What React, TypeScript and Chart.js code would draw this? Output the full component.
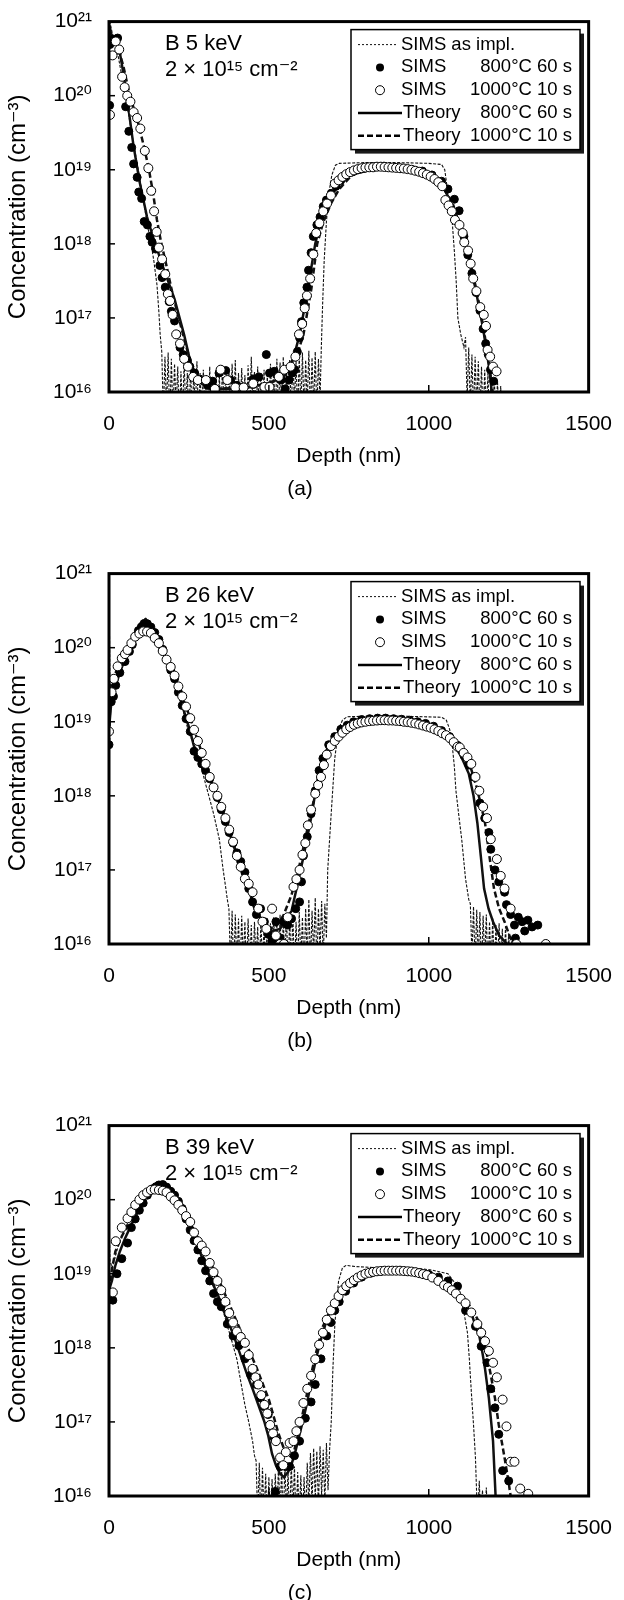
import { useEffect, useRef } from 'react';
import { Chart, registerables } from 'chart.js';

Chart.register(...registerables);

type Pt = [number, number];

const FONT = '"Liberation Sans", Arial, "DejaVu Sans", sans-serif';

// ---------- shared labels ----------
const panelCaptions = ['(a)', '(b)', '(c)'];
const energyLabels = ['B 5 keV', 'B 26 keV', 'B 39 keV'];
const doseLabel = '2 × 10¹⁵ cm⁻²';
const xTitle = 'Depth (nm)';
const yTitle = 'Concentration (cm⁻³)';
const xTickValues = [0, 500, 1000, 1500];
const yTickValues = [1e16, 1e17, 1e18, 1e19, 1e20, 1e21];
const yTickLabels = ['10¹⁶', '10¹⁷', '10¹⁸', '10¹⁹', '10²⁰', '10²¹'];
const legendNames = ['SIMS as impl.', 'SIMS', 'SIMS', 'Theory', 'Theory'];
const legendConds = ['', '800°C 60 s', '1000°C 10 s', '800°C 60 s', '1000°C 10 s'];

// ---------- panel (a): B 5 keV ----------
const aImpl: Pt[] = [
  [0, 3e19], [1, 1e21], [5, 9e20], [10, 7e20], [20, 5e20], [30, 3.2e20], [45, 1.4e20], [60, 6e19],
  [75, 2.5e19], [90, 1.1e19], [105, 4.5e18], [120, 1.8e18], [130, 1.1e18], [140, 6e17], [150, 2.8e17],
  [156, 1.2e17], [160, 6e16],
  [165, 3.5e16], [170, 5e15], [175, 3e16], [180, 6e15], [185, 3.4e16], [190, 4e15], [195, 2.8e16],
  [200, 5e15], [205, 2.4e16], [210, 6e15], [215, 2.2e16], [220, 4e15], [225, 1.9e16], [230, 5e15],
  [235, 2.5e16], [240, 6e15], [245, 1.8e16], [250, 4e15], [255, 2.1e16], [260, 5e15], [265, 1.7e16],
  [270, 6e15], [275, 2.6e16], [280, 4e15], [285, 1.8e16], [290, 5e15], [295, 2e16], [300, 6e15],
  [305, 1.7e16], [310, 4e15], [315, 2.2e16], [320, 5e15], [325, 1.6e16], [330, 6e15], [335, 1.9e16],
  [340, 4e15], [345, 1.7e16], [350, 5e15], [355, 2.3e16], [360, 6e15], [365, 1.6e16], [370, 4e15],
  [375, 2e16], [380, 5e15], [385, 2.4e16], [390, 6e15], [395, 2.7e16], [400, 4e15], [405, 1.8e16],
  [410, 5e15], [415, 2.1e16], [420, 6e15], [425, 1.7e16], [430, 4e15], [435, 2.3e16], [440, 5e15],
  [445, 3e16], [450, 6e15], [455, 1.9e16], [460, 4e15], [465, 2.2e16], [470, 5e15], [475, 1.8e16],
  [480, 6e15], [485, 2e16], [490, 4e15], [495, 1.7e16], [500, 5e15], [505, 2.4e16], [510, 6e15],
  [515, 2e16], [520, 4e15], [525, 2.8e16], [530, 5e15], [535, 2.5e16], [540, 6e15], [545, 3e16],
  [550, 4e15], [555, 2.2e16], [560, 6e15], [565, 2.7e16], [570, 5e15], [575, 3.2e16], [580, 7e15],
  [585, 2.6e16], [590, 5e15], [595, 3.1e16], [600, 6e15], [605, 3.4e16], [610, 5e15], [615, 2.7e16],
  [620, 7e15], [625, 3.6e16], [630, 5e15], [635, 2.9e16], [640, 6e15], [645, 3.5e16], [650, 5e15],
  [655, 2.8e16], [660, 8e15],
  [664, 4e16], [668, 1.5e17], [673, 6e17], [680, 2e18], [688, 5e18], [697, 8.5e18], [708, 1.15e19],
  [720, 1.22e19], [800, 1.25e19], [900, 1.25e19], [1000, 1.22e19], [1040, 1.18e19], [1050, 1e19],
  [1057, 6e18], [1064, 3.5e18], [1072, 2.4e18], [1080, 8e17], [1086, 3e17], [1091, 1e17], [1100, 6e16],
  [1110, 4e16], [1115, 5.5e16], [1120, 8e15], [1125, 4e16], [1130, 6e15], [1135, 3.2e16], [1140, 5e15],
  [1145, 3e16], [1150, 6e15], [1155, 2.6e16], [1160, 5e15], [1165, 2.2e16], [1170, 4e15], [1175, 2e16],
  [1180, 5e15], [1185, 1.8e16], [1190, 4e15], [1195, 1.6e16], [1200, 5e15], [1205, 1.5e16], [1210, 4e15],
  [1215, 1.4e16], [1220, 4e15], [1225, 1.2e16], [1228, 4e15],
];
const aTh800: Pt[] = [
  [0, 9e20], [8, 6.5e20], [20, 5.6e20], [34, 3.8e20], [45, 2e20], [58, 8.3e19], [76, 2.2e19], [95, 7.1e18],
  [119, 2.3e18], [137, 1.26e18], [168, 5e17], [205, 1.8e17], [235, 5.9e16], [254, 2.6e16], [278, 1.4e16],
  [315, 1.1e16], [400, 1.1e16], [498, 1.3e16], [547, 1.6e16], [577, 2.9e16], [596, 5.9e16], [620, 2.2e17],
  [645, 1e18], [663, 2.1e18], [681, 3.5e18], [706, 5.2e18], [736, 7.6e18], [779, 9.8e18], [840, 1.1e19],
  [901, 1.05e19], [962, 9.1e18], [1011, 7.6e18], [1048, 5.5e18], [1072, 3.5e18], [1097, 1.7e18],
  [1121, 7.6e17], [1146, 2.5e17], [1170, 7.2e16], [1189, 2.1e16], [1197, 1e16], [1205, 5e15],
];
const aTh1000: Pt[] = [
  [0, 9e20], [10, 6e20], [25, 5e20], [45, 2.5e20], [65, 1e20], [90, 4.5e19], [110, 2e19], [125, 1e19],
  [138, 4.8e18], [150, 2.1e18], [162, 1.1e18], [180, 5e17], [200, 2e17], [229, 6.6e16], [254, 2.6e16],
  [275, 1.5e16], [320, 1.1e16], [450, 1.15e16], [540, 1.5e16], [580, 2.5e16], [608, 5.9e16], [633, 2.5e17],
  [651, 1e18], [669, 1.9e18], [694, 3.5e18], [720, 5.5e18], [760, 8.5e18], [840, 1.08e19], [900, 1.05e19],
  [962, 9.1e18], [1011, 7.6e18], [1048, 5.5e18], [1075, 3.5e18], [1100, 1.6e18], [1125, 7e17],
  [1150, 2.3e17], [1172, 7e16], [1190, 2.2e16], [1200, 1e16], [1208, 5e15],
];
const aSims800: Pt[] = [
  [2, 7.4e19], [3, 4.9e20], [13, 5.8e20], [21, 5.8e20], [27, 6e20], [52, 7.1e19], [62, 3.3e19], [71, 2e19],
  [77, 1.2e19], [88, 7.9e18], [93, 5e18], [102, 4.1e18], [110, 2e18], [120, 1.8e18], [128, 1.26e18],
  [135, 1.05e18], [146, 8.5e17], [159, 5.1e17], [166, 3.5e17], [176, 2.6e17], [188, 1.66e17], [195, 1.23e17],
  [205, 9.1e16], [212, 6e16], [222, 4e16], [232, 3.2e16], [245, 2.7e16], [253, 2.2e16], [268, 1.8e16],
  [283, 1.5e16], [309, 1.23e16], [324, 1.4e16], [344, 1.8e16], [365, 1.95e16], [380, 1.45e16], [400, 1.23e16],
  [421, 1.17e16], [451, 1.5e16], [469, 1.6e16], [492, 3.2e16], [502, 1.8e16], [517, 1.9e16], [538, 1.45e16],
  [551, 1.1e16], [563, 1.45e16], [573, 1.8e16], [581, 2e16], [589, 3.5e16], [596, 5.4e16], [602, 8.9e16],
  [609, 1.6e17], [619, 2.6e17], [624, 4.4e17], [632, 7.6e17], [639, 1.26e18], [650, 1.8e18], [660, 2.3e18],
  [670, 3.2e18], [680, 3.9e18], [695, 4.8e18], [710, 6e18], [725, 7.2e18], [740, 8.3e18], [760, 9.3e18],
  [780, 1e19], [800, 1.05e19], [830, 1.1e19], [860, 1.12e19], [890, 1.08e19], [920, 1.05e19], [950, 1e19],
  [980, 9.6e18], [1010, 8.5e18], [1040, 7e18], [1060, 5.5e18], [1080, 4e18], [1095, 2.8e18], [1110, 1.26e18],
  [1122, 7.1e17], [1135, 4e17], [1148, 2.2e17], [1160, 1.26e17], [1170, 7.1e16], [1178, 4.5e16],
  [1186, 3.2e16], [1193, 2e16], [1203, 1.4e16],
];
const aSims1000: Pt[] = [
  [3, 5.5e19], [11, 3.5e20], [21, 5.4e20], [32, 4.2e20], [41, 1.8e20], [49, 1.3e20], [57, 1e20], [67, 8.3e19],
  [77, 6e19], [88, 5e19], [98, 3.6e19], [112, 1.8e19], [123, 1.05e19], [132, 5.2e18], [141, 2.75e18],
  [149, 1.45e18], [156, 8.9e17], [166, 6.2e17], [176, 3.9e17], [184, 2.1e17], [191, 1.7e17], [199, 1.1e17],
  [210, 6e16], [222, 4.5e16], [235, 2.8e16], [247, 2.2e16], [263, 1.6e16], [278, 1.45e16], [303, 1.45e16],
  [331, 1.1e16], [349, 2e16], [370, 1.45e16], [395, 1.15e16], [421, 1.15e16], [451, 1.3e16], [486, 1.17e16],
  [502, 1.17e16], [531, 1.6e16], [548, 2e16], [568, 2.2e16], [583, 3e16], [594, 6e16], [604, 8.3e16],
  [612, 1.35e17], [619, 2e17], [629, 3.4e17], [639, 7.2e17], [648, 1.4e18], [658, 1.9e18], [670, 2.75e18],
  [682, 3.5e18], [694, 4.5e18], [706, 6.5e18], [718, 7.2e18], [730, 8e18], [742, 8.7e18], [754, 9.3e18],
  [766, 9.8e18], [778, 1.02e19], [790, 1.05e19], [802, 1.07e19], [814, 1.08e19], [826, 1.08e19],
  [838, 1.1e19], [850, 1.1e19], [862, 1.09e19], [874, 1.08e19], [886, 1.07e19], [898, 1.06e19],
  [910, 1.05e19], [922, 1.04e19], [934, 1.02e19], [946, 1e19], [958, 9.7e18], [970, 9.4e18], [982, 9e18],
  [994, 8.6e18], [1006, 8.1e18], [1018, 7.5e18], [1030, 6.8e18], [1042, 6e18], [1052, 3.9e18],
  [1062, 3.3e18], [1072, 2.75e18], [1082, 2.1e18], [1096, 1.8e18], [1106, 1.4e18], [1111, 1.05e18],
  [1123, 8.1e17], [1131, 5.4e17], [1139, 3.4e17], [1149, 2.3e17], [1161, 1.4e17], [1172, 1.1e17],
  [1179, 7.8e16], [1184, 3.7e16], [1192, 3e16], [1201, 2.2e16], [1212, 1.9e16],
];

// ---------- panel (b): B 26 keV ----------
const bImpl: Pt[] = [
  [0, 5e15], [1, 2.8e20], [3, 3e19], [10, 2.6e19], [25, 4e19], [50, 8e19], [75, 1.5e20], [100, 2.3e20],
  [115, 2.5e20], [130, 2.2e20], [155, 1.4e20], [180, 7e19], [205, 3.5e19], [230, 1.5e19], [250, 7e18],
  [266, 5e18], [285, 2.8e18], [302, 1.45e18], [315, 9e17], [327, 5.75e17], [345, 2.6e17], [357, 1e17],
  [364, 6.2e16], [370, 4e16],
  [375, 3e16], [380, 5e15], [385, 2.8e16], [390, 4e15], [395, 2.5e16], [400, 5e15], [405, 2.2e16],
  [410, 4e15], [415, 2.4e16], [420, 6e15], [425, 2e16], [430, 4e15], [435, 2.2e16], [440, 5e15],
  [445, 1.8e16], [450, 4e15], [455, 2e16], [460, 6e15], [465, 1.7e16], [470, 4e15], [475, 2.1e16],
  [480, 5e15], [485, 1.8e16], [490, 4e15], [495, 2.2e16], [500, 5e15], [505, 1.9e16], [510, 4e15],
  [515, 2.3e16], [520, 6e15], [525, 2e16], [530, 4e15], [535, 2.5e16], [540, 5e15], [545, 2.1e16],
  [550, 6e15], [555, 2.6e16], [560, 4e15], [565, 2.2e16], [570, 5e15], [575, 2.5e16], [580, 4e15],
  [585, 2e16], [590, 5e15], [595, 2.7e16], [600, 6e15], [605, 2.3e16], [610, 4e15], [615, 3e16],
  [620, 6e15], [625, 4e16], [630, 5e15], [635, 2.8e16], [640, 7e15], [645, 4.2e16], [650, 5e15],
  [655, 3e16], [660, 8e15], [665, 3.8e16], [670, 6e15], [675, 3.5e16], [680, 1.2e16],
  [684, 1e17], [693, 4.3e17], [706, 3.2e18], [718, 8e18], [730, 1.05e19], [745, 1.17e19], [850, 1.2e19],
  [950, 1.18e19], [1040, 1.15e19], [1055, 1.05e19], [1065, 8e18], [1072, 5.5e18], [1080, 2.5e18],
  [1085, 1.17e18], [1095, 5e17], [1103, 2.6e17], [1115, 7.6e16], [1125, 4e16],
  [1130, 3.5e16], [1135, 7e15], [1140, 3.2e16], [1145, 5e15], [1150, 2.9e16], [1155, 6e15], [1160, 2.7e16],
  [1165, 4e15], [1170, 2.4e16], [1175, 6e15], [1180, 2.5e16], [1185, 4e15], [1190, 2e16], [1195, 5e15],
  [1200, 2.2e16], [1205, 4e15], [1210, 1.8e16], [1215, 5e15], [1220, 1.9e16], [1225, 4e15], [1230, 1.6e16],
  [1235, 4e15], [1240, 1.7e16], [1245, 5e15], [1250, 1.4e16], [1255, 4e15], [1260, 1.1e16], [1265, 4e15],
];
const bTh800: Pt[] = [
  [0, 8e18], [10, 2.5e19], [21, 3.1e19], [34, 4.6e19], [50, 7e19], [64, 8.9e19], [82, 1.4e20], [101, 1.9e20],
  [113, 2.1e20], [131, 1.9e20], [156, 1.29e20], [180, 6.9e19], [205, 3.8e19], [229, 1.66e19], [254, 7.4e18],
  [266, 4.6e18], [278, 3.3e18], [302, 2.2e18], [327, 1.3e18], [351, 6.8e17], [376, 3.2e17], [400, 1.6e17],
  [431, 6.8e16], [455, 3e16], [486, 1.85e16], [510, 1.5e16], [535, 1.6e16], [571, 2.8e16], [590, 6.5e16],
  [608, 1.5e17], [632, 5e17], [657, 2.2e18], [669, 3e18], [687, 4.9e18], [706, 6.3e18], [730, 7.9e18],
  [767, 1e19], [830, 1.1e19], [889, 1.1e19], [950, 1.05e19], [1011, 8.7e18], [1060, 6.5e18], [1100, 3.5e18],
  [1125, 2e18], [1140, 1e18], [1152, 4.3e17], [1163, 1.5e17], [1173, 5.6e16], [1187, 3e16], [1201, 2e16],
  [1220, 1.3e16], [1245, 1e16], [1260, 7e15],
];
const bTh1000: Pt[] = [
  [0, 5e18], [5, 3e19], [15, 3.8e19], [27, 5.6e19], [40, 7.2e19], [58, 9.3e19], [82, 1.4e20], [107, 1.66e20],
  [131, 1.6e20], [156, 1.15e20], [180, 6.9e19], [205, 4.2e19], [229, 2.2e19], [254, 1.12e19], [278, 5.5e18],
  [302, 2.7e18], [327, 1.3e18], [351, 7e17], [376, 3.5e17], [400, 1.55e17], [425, 7.6e16], [449, 4e16],
  [470, 2.4e16], [495, 1.6e16], [520, 1.7e16], [545, 2.4e16], [570, 4.5e16], [590, 9e16], [610, 2.2e17],
  [632, 6e17], [650, 1.3e18], [669, 2.5e18], [690, 4.2e18], [710, 5.9e18], [735, 7.5e18], [770, 9.5e18],
  [830, 1.08e19], [889, 1.1e19], [950, 1.05e19], [1011, 8.7e18], [1060, 6.5e18], [1100, 3.8e18],
  [1130, 2.5e18], [1150, 1.3e18], [1165, 7e17], [1176, 4.3e17], [1190, 1.5e17], [1204, 5.6e16],
  [1220, 3e16], [1237, 2e16], [1255, 1.2e16], [1270, 1e16], [1285, 7e15],
];
const bSims800: Pt[] = [
  [0, 4.9e18], [7, 1.86e19], [14, 2.2e19], [21, 3.1e19], [34, 4.6e19], [50, 6.5e19], [64, 8.9e19], [73, 1.1e20],
  [82, 1.41e20], [92, 1.7e20], [101, 1.9e20], [108, 2.05e20], [113, 2.14e20], [120, 2.1e20], [131, 1.9e20],
  [143, 1.6e20], [156, 1.29e20], [168, 9.5e19], [180, 6.9e19], [193, 5e19], [205, 3.8e19], [217, 2.5e19],
  [229, 1.66e19], [241, 1.1e19], [254, 7.4e18], [266, 4e18], [278, 3.3e18], [290, 2.7e18], [302, 2.2e18],
  [315, 1.7e18], [327, 1.3e18], [339, 9.5e17], [351, 6.5e17], [364, 4.5e17], [376, 3.2e17], [388, 2.3e17],
  [400, 1.7e17], [412, 1.3e17], [425, 9.3e16], [437, 5.6e16], [449, 3.7e16], [461, 2.5e16], [474, 3e16],
  [486, 2e16], [498, 1.35e16], [510, 1.1e16], [522, 2e16], [535, 1.2e16], [547, 2e16], [559, 1.8e16],
  [571, 2.2e16], [584, 3e16], [596, 3.7e16], [602, 6.9e16], [608, 1.55e17], [620, 2.8e17], [632, 5.75e17],
  [645, 1.17e18], [657, 2.2e18], [669, 3.2e18], [687, 4.9e18], [706, 6.3e18], [725, 7.9e18], [745, 9e18],
  [765, 1e19], [790, 1.07e19], [815, 1.1e19], [840, 1.12e19], [865, 1.12e19], [890, 1.1e19], [915, 1.08e19],
  [940, 1.05e19], [965, 1e19], [990, 9.5e18], [1015, 8.7e18], [1040, 7.6e18], [1065, 6.3e18], [1090, 4.8e18],
  [1110, 3.5e18], [1125, 2.6e18], [1140, 1.8e18], [1160, 8e17], [1175, 5e17], [1188, 3.2e17], [1194, 1.9e17],
  [1207, 1e17], [1219, 6.9e16], [1237, 5e16], [1243, 3.4e16], [1256, 2.5e16], [1268, 1.8e16], [1271, 1.2e16],
  [1280, 2.3e16], [1292, 2e16], [1300, 1.5e16], [1310, 2.1e16], [1323, 1.7e16], [1341, 1.8e16],
];
const bSims1000: Pt[] = [
  [0, 7.4e18], [8, 2.5e19], [15, 3.8e19], [27, 5.6e19], [40, 7.2e19], [50, 8.2e19], [58, 9.3e19], [70, 1.15e20],
  [82, 1.41e20], [95, 1.55e20], [107, 1.66e20], [119, 1.65e20], [131, 1.58e20], [143, 1.35e20], [156, 1.15e20],
  [168, 9e19], [180, 6.9e19], [193, 5.5e19], [205, 4.2e19], [217, 3e19], [229, 2.2e19], [241, 1.6e19],
  [254, 1.12e19], [266, 7.8e18], [278, 5.5e18], [290, 3.8e18], [302, 2.7e18], [315, 1.8e18], [327, 1.3e18],
  [339, 1e18], [351, 7.1e17], [364, 5e17], [376, 3.5e17], [388, 2.4e17], [400, 1.55e17], [412, 1.1e17],
  [425, 7.6e16], [437, 6.5e16], [449, 5e16], [467, 3e16], [480, 2e16], [492, 1.6e16], [510, 3e16],
  [522, 1.3e16], [535, 1e16], [547, 1e16], [559, 2.3e16], [577, 5.9e16], [586, 7.5e16], [596, 1e17],
  [605, 1.6e17], [614, 2.3e17], [622, 4e17], [632, 6.5e17], [645, 1.07e18], [654, 1.4e18], [663, 1.8e18],
  [672, 2.6e18], [681, 3.6e18], [694, 4.7e18], [706, 5.5e18], [718, 6.3e18], [730, 7.1e18], [742, 7.9e18],
  [754, 8.5e18], [766, 9.1e18], [778, 9.5e18], [790, 9.8e18], [802, 1e19], [814, 1.02e19], [826, 1.03e19],
  [838, 1.04e19], [850, 1.05e19], [862, 1.05e19], [874, 1.04e19], [886, 1.04e19], [898, 1.03e19],
  [910, 1.02e19], [922, 1e19], [934, 9.9e18], [946, 9.7e18], [958, 9.5e18], [970, 9.2e18], [982, 8.9e18],
  [994, 8.6e18], [1006, 8.3e18], [1018, 7.9e18], [1030, 7.5e18], [1042, 7e18], [1054, 6.6e18], [1066, 6e18],
  [1078, 5.3e18], [1090, 4.6e18], [1097, 4.5e18], [1109, 3.8e18], [1121, 3.3e18], [1133, 2.7e18],
  [1146, 1.8e18], [1158, 1.17e18], [1170, 7.1e17], [1182, 5e17], [1194, 2.6e17], [1213, 1.4e17],
  [1225, 8.3e16], [1237, 5.6e16], [1256, 3e16], [1274, 1e16], [1366, 1e16],
];

// ---------- panel (c): B 39 keV ----------
const cImpl: Pt[] = [
  [0, 1.5e18], [1, 4e19], [3, 1.5e19], [10, 1.2e19], [30, 2.5e19], [60, 5e19], [100, 1.1e20], [140, 1.6e20],
  [170, 1.7e20], [200, 1.4e20], [240, 7e19], [280, 2.6e19], [320, 9e18], [350, 4e18], [370, 2e18],
  [385, 1.2e18], [400, 7e17], [412, 3.5e17], [425, 1.7e17], [437, 1e17], [449, 5.5e16], [455, 3.5e16],
  [460, 3e16], [465, 5e15], [470, 2.8e16], [475, 4e15], [480, 2.4e16], [485, 5e15], [490, 2e16], [495, 4e15],
  [500, 1.8e16], [505, 5e15], [510, 1.7e16], [515, 4e15], [520, 2e16], [525, 5e15], [530, 2.6e16],
  [535, 6e15], [540, 2.3e16], [545, 4e15], [550, 2.7e16], [555, 6e15], [560, 2.2e16], [565, 4e15],
  [570, 2.9e16], [575, 6e15], [580, 2.5e16], [585, 4e15], [590, 2.1e16], [595, 5e15], [600, 1.9e16],
  [605, 4e15], [610, 1.8e16], [615, 5e15], [620, 2.8e16], [625, 7e15], [630, 3.8e16], [635, 8e15],
  [640, 4.4e16], [645, 9e15], [650, 4e16], [655, 7e15], [660, 4.7e16], [665, 1e16], [670, 4.2e16],
  [675, 8e15], [680, 5.2e16], [685, 1.2e16], [690, 4.3e16],
  [695, 1e17], [700, 5e17], [706, 1.95e18], [712, 4.5e18], [718, 8e18], [730, 1.2e19], [742, 1.3e19],
  [770, 1.25e19], [850, 1.2e19], [950, 1.2e19], [1011, 1.12e19], [1060, 1e19], [1085, 7.2e18], [1100, 5e18],
  [1109, 3.2e18], [1121, 1.6e18], [1127, 7e17], [1133, 2.6e17], [1140, 9.1e16], [1146, 3.3e16], [1150, 1e16],
  [1153, 5e15], [1158, 1.6e16], [1163, 4e15], [1168, 1.2e16], [1175, 4e15], [1180, 1.3e16], [1185, 4e15],
];
const cTh800: Pt[] = [
  [0, 6e18], [9, 8e18], [20, 1.3e19], [34, 2e19], [50, 3e19], [70, 4.6e19], [90, 6.8e19], [107, 9.3e19],
  [125, 1.25e20], [144, 1.48e20], [162, 1.58e20], [180, 1.55e20], [192, 1.41e20], [210, 1.12e20],
  [229, 8.5e19], [248, 5.6e19], [266, 3.4e19], [284, 2e19], [302, 1.23e19], [320, 8e18], [339, 5.4e18],
  [357, 3.3e18], [376, 2.1e18], [394, 1.3e18], [412, 7.8e17], [430, 4.6e17], [449, 2.8e17], [467, 1.7e17],
  [486, 1e17], [498, 6.5e16], [510, 3.7e16], [522, 2.6e16], [535, 2e16], [547, 1.8e16], [560, 2.1e16],
  [571, 2.7e16], [583, 4e16], [596, 6.8e16], [608, 1.1e17], [620, 1.86e17], [632, 3.5e17], [645, 6.3e17],
  [657, 1.05e18], [669, 1.6e18], [687, 2.9e18], [706, 4e18], [725, 5.2e18], [742, 6.6e18], [765, 8e18],
  [791, 9.5e18], [840, 1.07e19], [889, 1.1e19], [940, 1.07e19], [987, 1e19], [1020, 8.8e18], [1048, 7.2e18],
  [1072, 5.9e18], [1097, 4.9e18], [1115, 3.8e18], [1133, 2.95e18], [1146, 2e18], [1158, 1.45e18],
  [1168, 8.5e17], [1176, 5.2e17], [1188, 2.1e17], [1201, 5.5e16], [1209, 1e16], [1215, 5e15],
];
const cTh1000: Pt[] = [
  [0, 6e18], [10, 1.2e19], [20, 2e19], [40, 3.2e19], [70, 5.6e19], [107, 1.05e20], [140, 1.38e20],
  [165, 1.41e20], [190, 1.26e20], [230, 7.6e19], [270, 3.55e19], [300, 2e19], [340, 8.9e18], [380, 3.55e18],
  [420, 1.41e18], [460, 5.6e17], [500, 2e17], [530, 7e16], [550, 4e16], [565, 3.3e16], [580, 4.2e16],
  [596, 8.3e16], [620, 2.5e17], [645, 7.8e17], [669, 1.95e18], [706, 4.2e18], [742, 6.6e18], [791, 9.5e18],
  [840, 1.07e19], [889, 1.1e19], [940, 1.07e19], [987, 1e19], [1048, 7.5e18], [1097, 5.2e18], [1133, 3.5e18],
  [1158, 2.2e18], [1170, 1.45e18], [1182, 8e17], [1194, 4.3e17], [1207, 2.1e17], [1219, 9.1e16],
  [1237, 3.3e16], [1250, 1.5e16], [1256, 1e16], [1262, 5e15],
];
const cSims800: Pt[] = [
  [12, 4.4e18], [25, 1e19], [40, 1.6e19], [58, 2.6e19], [70, 4.2e19], [82, 5.5e19], [95, 7.2e19], [107, 9e19],
  [120, 1.15e20], [137, 1.41e20], [147, 1.5e20], [156, 1.58e20], [168, 1.6e20], [180, 1.48e20], [193, 1.3e20],
  [205, 1.15e20], [217, 9.5e19], [229, 7.6e19], [241, 5.5e19], [254, 3.9e19], [266, 2.8e19], [278, 2.1e19],
  [290, 1.5e19], [302, 1.1e19], [315, 8e18], [327, 5.4e18], [339, 4.2e18], [351, 3.6e18], [370, 2.1e18],
  [388, 1.45e18], [406, 1.07e18], [425, 7.1e17], [443, 4.3e17], [461, 3.2e17], [474, 2.1e17], [486, 1.6e17],
  [498, 1.26e17], [516, 6.2e16], [520, 1.15e16], [535, 2.5e16], [553, 2.5e16], [565, 2.5e16], [580, 3.5e16],
  [596, 5.5e16], [614, 1.12e17], [632, 1.86e17], [645, 3.2e17], [663, 7.1e17], [681, 1.45e18], [694, 2.2e18],
  [706, 3.2e18], [720, 4.2e18], [740, 5.8e18], [765, 7.5e18], [790, 9e18], [820, 1.02e19], [850, 1.08e19],
  [880, 1.1e19], [910, 1.1e19], [940, 1.08e19], [970, 1.04e19], [1000, 9.8e18], [1030, 9e18], [1060, 8e18],
  [1090, 6.8e18], [1115, 3.2e18], [1146, 1.95e18], [1164, 1.05e18], [1182, 6.3e17], [1194, 2.8e17],
  [1207, 1.55e17], [1219, 6.8e16], [1231, 2.2e16], [1250, 1.6e16],
];
const cSims1000: Pt[] = [
  [12, 5.6e18], [21, 2.75e19], [40, 4.2e19], [58, 5.6e19], [70, 6.8e19], [82, 8.5e19], [95, 1e20], [107, 1.15e20],
  [119, 1.25e20], [131, 1.35e20], [143, 1.37e20], [156, 1.35e20], [168, 1.32e20], [180, 1.26e20], [193, 1.1e20],
  [205, 9.8e19], [217, 8.5e19], [229, 7.2e19], [241, 6e19], [254, 5e19], [266, 3.6e19], [278, 2.75e19],
  [290, 2.4e19], [302, 2e19], [315, 1.4e19], [327, 1.05e19], [339, 8e18], [351, 6e18], [364, 4.2e18],
  [376, 2.95e18], [388, 2.2e18], [400, 1.66e18], [412, 1.4e18], [425, 1.17e18], [437, 8e17], [449, 5.2e17],
  [458, 4e17], [467, 3.2e17], [476, 2.3e17], [486, 1.7e17], [495, 1.3e17], [504, 9.1e16], [513, 7e16],
  [522, 5.5e16], [535, 3.3e16], [545, 2.6e16], [553, 3.9e16], [565, 5.2e16], [577, 5.5e16], [586, 7.5e16],
  [596, 1e17], [608, 1.8e17], [620, 2.8e17], [632, 4.2e17], [645, 7e17], [657, 1.1e18], [669, 1.6e18],
  [681, 2.4e18], [694, 3.2e18], [706, 4e18], [718, 5e18], [730, 6e18], [742, 6.8e18], [754, 7.5e18],
  [766, 8.2e18], [778, 8.9e18], [790, 9.5e18], [802, 1e19], [814, 1.03e19], [826, 1.06e19], [838, 1.08e19],
  [850, 1.09e19], [862, 1.1e19], [874, 1.1e19], [886, 1.1e19], [898, 1.1e19], [910, 1.1e19], [922, 1.09e19],
  [934, 1.08e19], [946, 1.07e19], [958, 1.05e19], [970, 1.02e19], [982, 9.9e18], [994, 9.6e18],
  [1011, 8.9e18], [1030, 8e18], [1048, 7e18], [1060, 6.6e18], [1072, 6e18], [1085, 5.4e18], [1100, 4.6e18],
  [1115, 4e18], [1133, 3e18], [1152, 2.1e18], [1164, 1.6e18], [1176, 1.23e18], [1188, 9.1e17], [1201, 6.3e17],
  [1213, 4e17], [1231, 2e17], [1243, 8.7e16], [1256, 2.9e16], [1268, 2.9e16], [1286, 1.26e16], [1311, 1.07e16],
];

interface PanelData {
  caption: string;
  energy: string;
  impl: Pt[];
  th800: Pt[];
  th1000: Pt[];
  s800: Pt[];
  s1000: Pt[];
}

const panels: PanelData[] = [
  { caption: panelCaptions[0], energy: energyLabels[0], impl: aImpl, th800: aTh800, th1000: aTh1000, s800: aSims800, s1000: aSims1000 },
  { caption: panelCaptions[1], energy: energyLabels[1], impl: bImpl, th800: bTh800, th1000: bTh1000, s800: bSims800, s1000: bSims1000 },
  { caption: panelCaptions[2], energy: energyLabels[2], impl: cImpl, th800: cTh800, th1000: cTh1000, s800: cSims800, s1000: cSims1000 },
];

const toXY = (arr: Pt[]) => arr.map(([x, y]) => ({ x, y }));

function makeDecor(p: PanelData) {
  return {
    id: 'decor',
    afterDatasetsDraw(chart: any) {
      const { ctx, chartArea: ca, scales } = chart;
      ctx.save();
      ctx.strokeStyle = '#000';
      ctx.setLineDash([]);
      // inward tick marks
      ctx.lineWidth = 1.5;
      for (const v of xTickValues.slice(1, -1)) {
        const x = scales.x.getPixelForValue(v);
        ctx.beginPath(); ctx.moveTo(x, ca.bottom); ctx.lineTo(x, ca.bottom - 7); ctx.stroke();
      }
      for (const v of yTickValues.slice(1, -1)) {
        const y = scales.y.getPixelForValue(v);
        ctx.beginPath(); ctx.moveTo(ca.left, y); ctx.lineTo(ca.left + 6, y); ctx.stroke();
      }
      // frame
      ctx.lineWidth = 3;
      ctx.strokeRect(ca.left, ca.top, ca.right - ca.left, ca.bottom - ca.top);

      // annotation
      ctx.fillStyle = '#000';
      ctx.font = `22px ${FONT}`;
      ctx.textBaseline = 'middle';
      ctx.textAlign = 'left';
      ctx.fillText(p.energy, ca.left + 56, ca.top + 22);
      ctx.fillText(doseLabel, ca.left + 56, ca.top + 48);

      // legend box with shadow
      const lx = ca.left + 242, ly = ca.top + 8, lw = 229, lh = 120;
      ctx.fillStyle = '#1a1a1a';
      ctx.fillRect(lx + 4, ly + 4, lw, lh);
      ctx.fillStyle = '#fff';
      ctx.fillRect(lx, ly, lw, lh);
      ctx.lineWidth = 1.5;
      ctx.strokeStyle = '#000';
      ctx.strokeRect(lx, ly, lw, lh);
      for (let i = 0; i < 5; i++) {
        const y = ly + 15 + i * 22.8;
        ctx.strokeStyle = '#000';
        ctx.fillStyle = '#000';
        if (i === 0) {
          ctx.lineWidth = 1; ctx.setLineDash([2, 2]); ctx.strokeStyle = '#111';
          ctx.beginPath(); ctx.moveTo(lx + 7, y); ctx.lineTo(lx + 47, y); ctx.stroke();
        } else if (i === 1) {
          ctx.beginPath(); ctx.arc(lx + 29, y, 4, 0, Math.PI * 2); ctx.fill();
        } else if (i === 2) {
          ctx.lineWidth = 1; ctx.setLineDash([]);
          ctx.fillStyle = '#fff';
          ctx.beginPath(); ctx.arc(lx + 29, y, 4.5, 0, Math.PI * 2); ctx.fill(); ctx.stroke();
        } else {
          ctx.lineWidth = 2.5; ctx.setLineDash(i === 4 ? [6, 3] : []);
          ctx.beginPath(); ctx.moveTo(lx + 7, y); ctx.lineTo(lx + 51, y); ctx.stroke();
        }
        ctx.setLineDash([]);
        ctx.fillStyle = '#000';
        ctx.font = `18.5px ${FONT}`;
        ctx.textAlign = 'left';
        ctx.fillText(legendNames[i], lx + (i >= 3 ? 52 : 50), y);
        if (legendConds[i]) {
          ctx.textAlign = 'right';
          ctx.fillText(legendConds[i], lx + 221, y);
        }
      }
      ctx.restore();
    },
  };
}

function makeConfig(p: PanelData): any {
  const tickFont = { family: FONT, size: 21, weight: 'normal' as const };
  const titleFont = { family: FONT, size: 21, weight: 'normal' as const };
  const yTitleFont = { family: FONT, size: 24, weight: 'normal' as const };
  return {
    type: 'line',
    data: {
      datasets: [
        { label: 'SIMS as impl.', data: toXY(p.impl), borderColor: '#111', borderWidth: 1.1, borderDash: [3, 1.5],
          pointRadius: 0, fill: false, order: 5, clip: 0, tension: 0 },
        { label: 'Theory 800°C 60 s', data: toXY(p.th800), borderColor: '#111', borderWidth: 2.5,
          pointRadius: 0, fill: false, order: 4, clip: 0, tension: 0 },
        { label: 'Theory 1000°C 10 s', data: toXY(p.th1000), borderColor: '#111', borderWidth: 2.5, borderDash: [6, 3],
          pointRadius: 0, fill: false, order: 3, clip: 0, tension: 0 },
        { label: 'SIMS 800°C 60 s', data: toXY(p.s800), showLine: false, pointRadius: 4,
          pointBackgroundColor: '#000', pointBorderColor: '#000', pointBorderWidth: 1, order: 2 },
        { label: 'SIMS 1000°C 10 s', data: toXY(p.s1000), showLine: false, pointRadius: 4.5,
          pointBackgroundColor: '#fff', pointBorderColor: '#000', pointBorderWidth: 1, order: 1 },
      ],
    },
    options: {
      animation: false,
      responsive: false,
      devicePixelRatio: 1,
      events: [],
      layout: { padding: { top: 15, right: 24, left: 0, bottom: 50.4 } },
      plugins: {
        legend: { display: false },
        tooltip: { enabled: false },
        title: { display: true, text: p.caption, position: 'bottom', font: titleFont, color: '#000', padding: { top: 4.4, bottom: 0 } },
      },
      scales: {
        x: {
          type: 'linear', min: 0, max: 1500,
          afterBuildTicks: (s: any) => { s.ticks = xTickValues.map((v) => ({ value: v })); },
          afterFit: (s: any) => { s.height = 80; },
          ticks: { font: tickFont, color: '#000', padding: 12, maxRotation: 0, autoSkip: false, callback: (v: any) => String(v) },
          grid: { display: false },
          border: { display: false },
          title: { display: true, text: xTitle, font: titleFont, color: '#000', padding: { top: 0, bottom: 3.4 } },
        },
        y: {
          type: 'logarithmic', min: 1e16, max: 1e21,
          afterBuildTicks: (s: any) => { s.ticks = yTickValues.map((v) => ({ value: v })); },
          afterFit: (s: any) => { s.width = 109; },
          ticks: { font: tickFont, color: '#000', padding: 9, autoSkip: false,
            callback: (v: any) => yTickLabels[yTickValues.indexOf(Number(v))] ?? '' },
          grid: { display: false },
          border: { display: false },
          title: { display: true, text: yTitle, font: yTitleFont, color: '#000', padding: { top: 3.6, bottom: 0 } },
        },
      },
    },
    plugins: [makeDecor(p)],
  };
}

function Panel({ p }: { p: PanelData }) {
  const ref = useRef<HTMLCanvasElement | null>(null);
  useEffect(() => {
    if (!ref.current) return;
    const chart = new Chart(ref.current, makeConfig(p));
    return () => chart.destroy();
  }, [p]);
  return <canvas ref={ref} width={624} height={552} style={{ display: 'block', width: 624, height: 552 }} />;
}

export default function App() {
  return (
    <div style={{ position: 'absolute', left: 0, top: 0, width: 624, background: '#fff' }}>
      {panels.map((p, i) => <Panel key={i} p={p} />)}
    </div>
  );
}
